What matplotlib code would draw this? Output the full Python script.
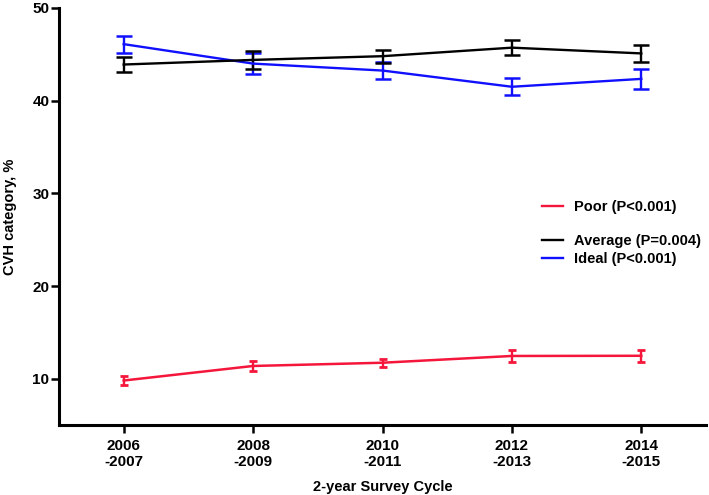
import numpy as np
import matplotlib
matplotlib.use("Agg")
import matplotlib.pyplot as plt

plt.rcParams['font.family'] = ['Liberation Sans', 'DejaVu Sans']
plt.rcParams['font.weight'] = 'bold'

# survey cycles and CVH category percentages (mean +/- error)
cycles = ['2006\n-2007', '2008\n-2009', '2010\n-2011', '2012\n-2013', '2014\n-2015']
ideal = [46.1, 44.0, 43.25, 41.5, 42.35]
ideal_err = [0.92, 1.15, 0.88, 0.93, 1.09]
average = [43.9, 44.4, 44.8, 45.72, 45.1]
average_err = [0.85, 0.97, 0.72, 0.81, 0.95]
poor = [9.8, 11.37, 11.72, 12.45, 12.47]
poor_err = [0.5, 0.49, 0.45, 0.62, 0.63]

red = '#f5163c'
blue = '#1010ff'

fig = plt.figure(figsize=(7.09, 4.95), dpi=100)
ax = fig.add_axes([59 / 709, 70 / 495, 647 / 709, 417 / 495])

x = np.arange(len(cycles))
ax.errorbar(x, ideal, yerr=ideal_err, color=blue, lw=1.7,
            capsize=5.5, capthick=1.8, elinewidth=1.7)
ax.errorbar(x, average, yerr=average_err, color='black', lw=1.7,
            capsize=5.5, capthick=1.8, elinewidth=1.7)
ax.errorbar(x, poor, yerr=poor_err, color=red, lw=1.8,
            capsize=3, capthick=2, elinewidth=1.7)

ax.set_xlim(-0.5, 4.5)
ax.set_ylim(5, 50)
ax.set_yticks([10, 20, 30, 40, 50])
ax.set_xticks(x)
ax.set_xticklabels(cycles, fontsize=11, fontweight='bold', linespacing=1.15)
ax.tick_params(axis='y', labelsize=11, width=1.8, length=6, pad=1)
ax.tick_params(axis='x', width=1.8, length=6, pad=4)
for lab in ax.get_yticklabels():
    lab.set_fontweight('bold')

for s in ['top', 'right']:
    ax.spines[s].set_visible(False)
for s in ['left', 'bottom']:
    ax.spines[s].set_linewidth(2.2)

ax.set_ylabel('CVH category, %', fontsize=10.5, fontweight='bold', labelpad=11)
ax.set_xlabel('2-year Survey Cycle', fontsize=10.5, fontweight='bold', labelpad=8)

h_poor = plt.Line2D([], [], color=red, lw=1.7)
h_avg = plt.Line2D([], [], color='black', lw=1.7)
h_ideal = plt.Line2D([], [], color=blue, lw=1.7)

leg_kw = dict(frameon=False, loc='center left', borderpad=0, borderaxespad=0,
              handlelength=1.45, handletextpad=0.75,
              prop={'size': 10.5, 'weight': 'bold'},
              bbox_transform=fig.transFigure)
leg1 = ax.legend([h_poor], ['Poor (P<0.001)'],
                 bbox_to_anchor=(542 / 709, 1 - 207 / 495), **leg_kw)
ax.add_artist(leg1)
ax.legend([h_avg, h_ideal], ['Average (P=0.004)', 'Ideal (P<0.001)'],
          bbox_to_anchor=(542 / 709, 1 - 250 / 495), labelspacing=0.3, **leg_kw)

fig.savefig('out.png', dpi=100)
